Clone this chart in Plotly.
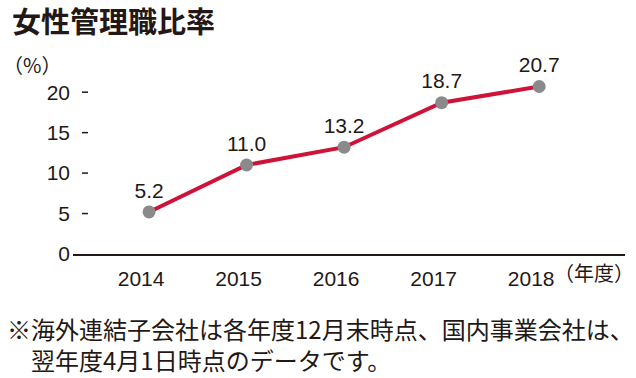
import plotly.graph_objects as go

years = [2014, 2015, 2016, 2017, 2018]
ratios = [5.2, 11.0, 13.2, 18.7, 20.7]
ratio_labels = ["5.2", "11.0", "13.2", "18.7", "20.7"]
y_ticks = [0, 5, 10, 15, 20]
y_tick_labels = ["0", "5", "10", "15", "20"]
x_tick_labels = ["2014", "2015", "2016", "2017", "2018"]

title_text = "女性管理職比率"
y_unit = "（%）"
x_unit = "（年度）"
note_line1 = "※海外連結子会社は各年度12月末時点、国内事業会社は、"
note_line2 = "翌年度4月1日時点のデータです。"

TXT = "#231815"
NUM_FONT = "Liberation Sans, Arial, sans-serif"
JP_FONT = "Noto Sans CJK JP, sans-serif"

# plot area in pixels
L, R, T, B = 73, 625, 76, 254
W, H = 636, 378


def px(x):
    return (x - L) / (R - L)


def py(y):
    return (B - y) / (B - T)


fig = go.Figure()
fig.add_trace(go.Scatter(
    x=years, y=ratios,
    mode="lines+markers+text",
    line=dict(color="#cf1237", width=4),
    marker=dict(color="#8a8a8a", size=13),
    text=ratio_labels,
    textposition="top center",
    textfont=dict(family=NUM_FONT, size=21, color=TXT),
    cliponaxis=False,
    hoverinfo="skip",
))

# short tick dashes next to the y labels
shapes = [
    dict(type="line", xref="paper", yref="y", x0=px(82), x1=px(88), y0=v, y1=v,
         line=dict(color=TXT, width=1.5))
    for v in y_ticks if v != 0
]

annotations = [
    dict(text=title_text, xref="paper", yref="paper", x=px(10), y=py(20),
         xanchor="left", yanchor="middle", showarrow=False,
         font=dict(family=JP_FONT, size=29, color=TXT, weight="bold")),
    dict(text=y_unit, xref="paper", yref="paper", x=px(1), y=py(64),
         xanchor="left", yanchor="middle", showarrow=False,
         font=dict(family=JP_FONT, size=20, color=TXT)),
    dict(text=x_unit, xref="paper", yref="paper", x=px(636), y=py(272),
         xanchor="right", yanchor="middle", showarrow=False,
         font=dict(family=JP_FONT, size=20, color=TXT)),
    dict(text=note_line1 + "<br>\u3000" + note_line2,
         xref="paper", yref="paper", x=px(5), y=py(343.5),
         xanchor="left", yanchor="middle", align="left", showarrow=False,
         font=dict(family=JP_FONT, size=24, color=TXT)),
]

fig.update_layout(
    width=W, height=H,
    margin=dict(l=L, r=W - R, t=T, b=H - B, pad=0),
    paper_bgcolor="white", plot_bgcolor="white",
    showlegend=False,
    shapes=shapes,
    annotations=annotations,
    xaxis=dict(
        range=[2013.22, 2018.88],
        tickmode="array", tickvals=years, ticktext=x_tick_labels,
        showgrid=False, zeroline=False, showline=True,
        linecolor=TXT, linewidth=2,
        ticks="", ticklabelshift=-8, ticklabelstandoff=5,
        tickfont=dict(family=NUM_FONT, size=21, color=TXT),
        fixedrange=True,
    ),
    yaxis=dict(
        range=[0, 22],
        tickmode="array", tickvals=y_ticks, ticktext=y_tick_labels,
        showgrid=False, zeroline=False, showline=False,
        ticks="", ticklabelstandoff=2,
        tickfont=dict(family=NUM_FONT, size=21, color=TXT),
        fixedrange=True,
    ),
)

fig.write_html(
    "out.html",
    config={"displayModeBar": False},
    post_script="document.body.style.margin='0px';",
)
